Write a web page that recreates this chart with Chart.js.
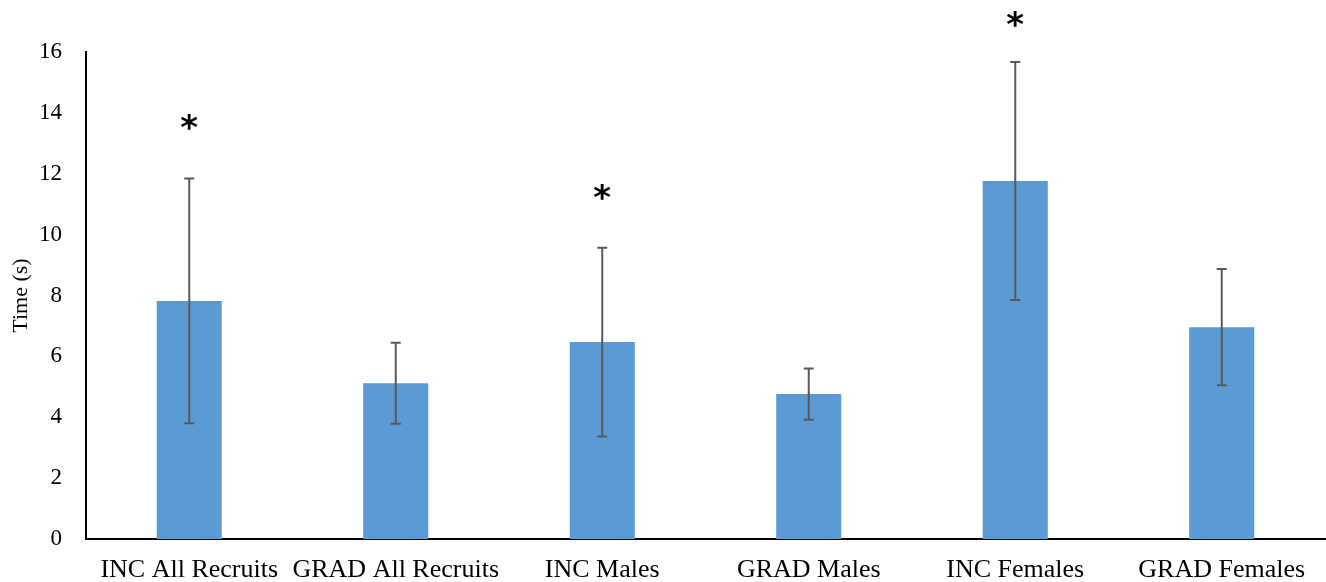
<!DOCTYPE html>
<html>
<head>
<meta charset="utf-8">
<script src="https://cdn.jsdelivr.net/npm/chart.js@4"></script>
<style>
  html, body { margin: 0; padding: 0; background: #fff; }
  #wrap { width: 1326px; height: 582px; position: relative; }
</style>
</head>
<body>
<div id="wrap"><canvas id="c"></canvas></div>
<script>
const categories = ["INC All Recruits", "GRAD All Recruits", "INC Males", "GRAD Males", "INC Females", "GRAD Females"];
const meanTime = [7.82, 5.12, 6.47, 4.76, 11.76, 6.96];
const sdTime = [4.02, 1.33, 3.10, 0.84, 3.91, 1.91];
const significant = [true, false, true, false, true, false];
const yTicks = [0, 2, 4, 6, 8, 10, 12, 14, 16];

const FONT = "'Liberation Serif', 'Times New Roman', serif";

const errorBarPlugin = {
  id: 'errorBars',
  afterDatasetsDraw(chart) {
    const ctx = chart.ctx;
    const meta = chart.getDatasetMeta(0);
    const y = chart.scales.y;
    ctx.save();
    ctx.strokeStyle = '#595959';
    ctx.lineWidth = 2;
    meta.data.forEach((bar, i) => {
      const x = bar.x;
      const top = y.getPixelForValue(meanTime[i] + sdTime[i]);
      const bot = y.getPixelForValue(meanTime[i] - sdTime[i]);
      ctx.beginPath();
      ctx.moveTo(x, top); ctx.lineTo(x, bot);
      ctx.moveTo(x - 5, top); ctx.lineTo(x + 5, top);
      ctx.moveTo(x - 5, bot); ctx.lineTo(x + 5, bot);
      ctx.stroke();
      if (significant[i]) {
        ctx.fillStyle = '#000';
        ctx.font = "bold 34px 'DejaVu Sans', sans-serif";
        ctx.textAlign = 'center';
        ctx.textBaseline = 'middle';
        ctx.fillText('*', x, Math.max(top - 48, 27));
      }
    });
    ctx.restore();
  }
};

new Chart(document.getElementById('c'), {
  type: 'bar',
  data: {
    labels: categories,
    datasets: [{
      data: meanTime,
      backgroundColor: '#5B9BD5',
      borderWidth: 0,
      barPercentage: 0.63,
      categoryPercentage: 0.5
    }]
  },
  options: {
    responsive: true,
    maintainAspectRatio: false,
    animation: false,
    devicePixelRatio: 1,
    layout: { padding: { top: 52, right: 1, left: 0, bottom: 0 } },
    plugins: { legend: { display: false }, tooltip: { enabled: false } },
    scales: {
      x: {
        grid: { display: false, drawTicks: false },
        border: { display: true, color: '#000', width: 2 },
        ticks: { color: '#000', font: { family: FONT, size: 26 }, padding: 16, maxRotation: 0, autoSkip: false },
        afterFit(s) { s.height = 43; }
      },
      y: {
        min: 0, max: 16,
        afterBuildTicks(scale) { scale.ticks = yTicks.map(v => ({ value: v })); },
        grid: { display: false, drawTicks: false },
        border: { display: true, color: '#000', width: 2 },
        ticks: { color: '#000', font: { family: FONT, size: 23 }, padding: 24 },
        title: { display: true, text: 'Time (s)', color: '#000', font: { family: FONT, size: 22 }, padding: { top: 8, bottom: 0 } },
        afterFit(s) { s.width = 86; }
      }
    }
  },
  plugins: [errorBarPlugin]
});
</script>
</body>
</html>
